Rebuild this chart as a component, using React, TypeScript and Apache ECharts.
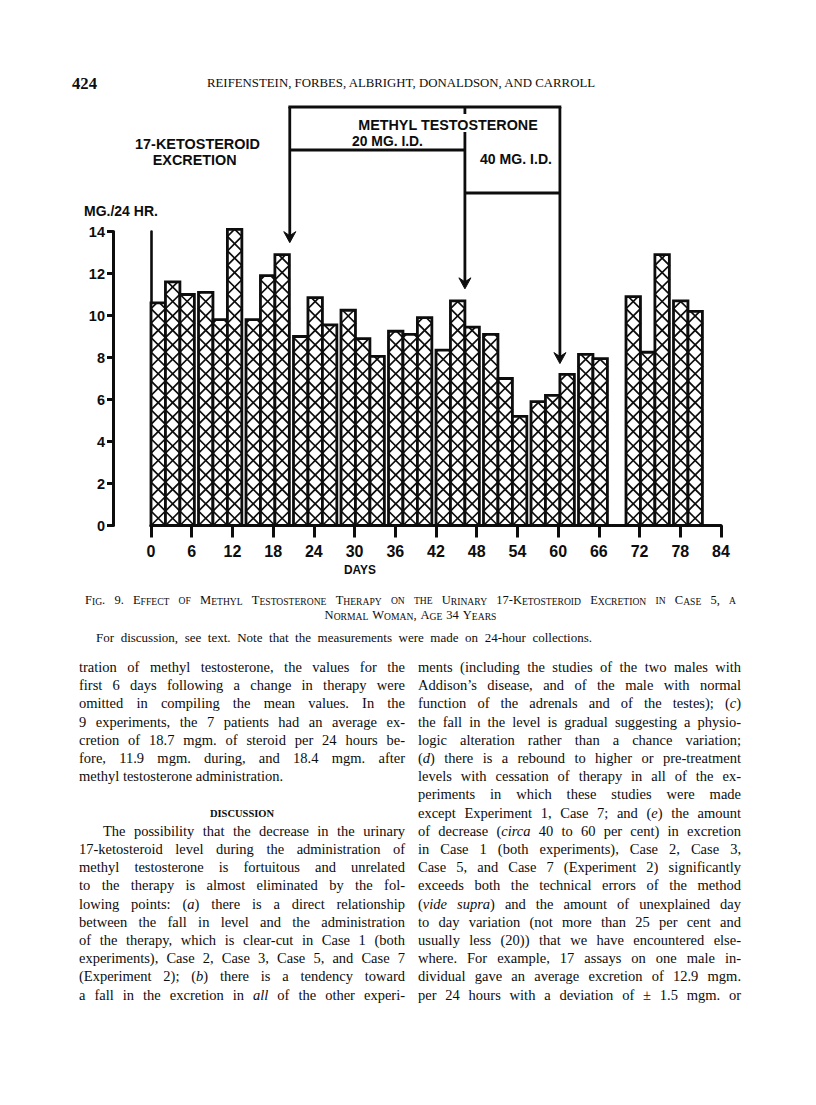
import React, { useEffect, useRef } from "react";
import * as echarts from "echarts";

// ---------------- data ----------------
const weekStarts = [0, 7, 14, 21, 28, 35, 42, 49, 56, 63, 70, 77];
const barsPerWeek = [3, 3, 3, 3, 3, 3, 3, 3, 3, 2, 3, 2];
const excretion = [
  10.6, 11.6, 11.0,
  11.1, 9.8, 14.1,
  9.8, 11.9, 12.9,
  9.0, 10.85, 9.55,
  10.25, 8.9, 8.05,
  9.25, 9.1, 9.9,
  8.35, 10.7, 9.45,
  9.1, 7.0, 5.2,
  5.9, 6.2, 7.2,
  8.15, 7.95,
  10.9, 8.25, 12.9,
  10.7, 10.2,
];
const barDays = 2.13;
const dayMax = 84;
const dayStep = 6;
const mgMax = 14;
const mgStep = 2;
const treatmentDays = [20.45, 46.26, 60.26];
const arrowTipMg = [13.47, 11.27, 7.71];

const runningHead = "REIFENSTEIN, FORBES, ALBRIGHT, DONALDSON, AND CARROLL";
const pageNumber = "424";
const chartTitle = ["17-KETOSTEROID", "EXCRETION"];
const yAxisTitle = "MG./24 HR.";
const xAxisTitle = "DAYS";
const drugTitle = "METHYL TESTOSTERONE";
const doseLabels = ["20 MG. I.D.", "40 MG. I.D."];

const captionLine1 = "Fig. 9. Effect of Methyl Testosterone Therapy on the Urinary 17-Ketosteroid Excretion in Case 5, a";
const captionLine2 = "Normal Woman, Age 34 Years";
const captionLine3 = "For discussion, see text.  Note that the measurements were made on 24-hour collections.";

const leftPara1 = [
  "tration of methyl testosterone, the values for the",
  "first 6 days following a change in therapy were",
  "omitted in compiling the mean values.  In the",
  "9 experiments, the 7 patients had an average ex-",
  "cretion of 18.7 mgm. of steroid per 24 hours be-",
  "fore, 11.9 mgm. during, and 18.4 mgm. after",
  "methyl testosterone administration.",
];
const heading = "DISCUSSION";
const leftPara2 = [
  "The possibility that the decrease in the urinary",
  "17-ketosteroid level during the administration of",
  "methyl testosterone is fortuitous and unrelated",
  "to the therapy is almost eliminated by the fol-",
  "lowing points: (*a*) there is a direct relationship",
  "between the fall in level and the administration",
  "of the therapy, which is clear-cut in Case 1 (both",
  "experiments), Case 2, Case 3, Case 5, and Case 7",
  "(Experiment 2); (*b*) there is a tendency toward",
  "a fall in the excretion in *all* of the other experi-",
];
const rightPara = [
  "ments (including the studies of the two males with",
  "Addison\u2019s disease, and of the male with normal",
  "function of the adrenals and of the testes); (*c*)",
  "the fall in the level is gradual suggesting a physio-",
  "logic alteration rather than a chance variation;",
  "(*d*) there is a rebound to higher or pre-treatment",
  "levels with cessation of therapy in all of the ex-",
  "periments in which these studies were made",
  "except Experiment 1, Case 7; and (*e*) the amount",
  "of decrease (*circa* 40 to 60 per cent) in excretion",
  "in Case 1 (both experiments), Case 2, Case 3,",
  "Case 5, and Case 7 (Experiment 2) significantly",
  "exceeds both the technical errors of the method",
  "(*vide* *supra*) and the amount of unexplained day",
  "to day variation (not more than 25 per cent and",
  "usually less (20)) that we have encountered else-",
  "where.  For example, 17 assays on one male in-",
  "dividual gave an average excretion of 12.9 mgm.",
  "per 24 hours with a deviation of \u00b1 1.5 mgm. or",
];

// ---------------- layout ----------------
const W = 816;
const H = 1105;
const GRID_L = 151;
const GRID_R = 721;
const GRID_T = 231.5;
const GRID_B = 525.5;
const INK = "#0d0d0d";
const SERIF = '"Liberation Serif", "Times New Roman", serif';
const SANS = '"Liberation Sans", Arial, sans-serif';
const NARROW = '"Liberation Sans Narrow", "Liberation Sans", Arial, sans-serif';

const COL_L = [79, 405];
const COL_R = [418, 741];
const BODY_Y0 = 667;
const BODY_PITCH = 18.2;
const BODY_SIZE = 14.5;
const HEAD_Y = 83;

let _ctx: any = null;
function measure(text: string, size: number, family: string, style = "normal", weight = "normal") {
  if (!_ctx) _ctx = document.createElement("canvas").getContext("2d");
  _ctx.font = `${style} ${weight} ${size}px ${family}`;
  return _ctx.measureText(text).width;
}

type Seg = { t: string; size: number; italic?: boolean; weight?: string };

function parseItalic(word: string, size: number): Seg[] {
  return word
    .split("*")
    .map((p, i) => ({ t: p, size, italic: i % 2 === 1 }))
    .filter((s) => s.t.length > 0);
}

function parseSmallCaps(word: string, big: number, small: number, weight = "normal"): Seg[] {
  const segs: Seg[] = [];
  for (const ch of word) {
    const low = ch !== ch.toUpperCase();
    const size = low ? small : big;
    const t = low ? ch.toUpperCase() : ch;
    const last = segs[segs.length - 1];
    if (last && last.size === size) last.t += t;
    else segs.push({ t, size, weight });
  }
  return segs;
}

function segsWidth(segs: Seg[], family: string) {
  return segs.reduce((a, s) => a + measure(s.t, s.size, family, s.italic ? "italic" : "normal", s.weight || "normal"), 0);
}

function wordElement(segs: Seg[], x: number, y: number, family: string) {
  if (segs.length === 1) {
    const s = segs[0];
    return {
      type: "text",
      x,
      y,
      silent: true,
      style: {
        text: s.t,
        fontSize: s.size,
        fontFamily: family,
        fontStyle: s.italic ? "italic" : "normal",
        fontWeight: s.weight || "normal",
        fill: INK,
        align: "left",
        verticalAlign: "middle",
      },
    };
  }
  const rich: any = {};
  let text = "";
  segs.forEach((s, i) => {
    const k = "k" + i;
    rich[k] = {
      fontSize: s.size,
      fontFamily: family,
      fontStyle: s.italic ? "italic" : "normal",
      fontWeight: s.weight || "normal",
      fill: INK,
      verticalAlign: "bottom",
    };
    text += `{${k}|${s.t}}`;
  });
  return {
    type: "text",
    x,
    y,
    silent: true,
    style: { text, rich, fill: INK, align: "left", verticalAlign: "middle", fontFamily: family, fontSize: segs[0].size },
  };
}

function layoutLine(
  words: Seg[][],
  x0: number,
  x1: number,
  y: number,
  mode: "justify" | "left" | "center",
  family: string,
  space: number
) {
  const widths = words.map((w) => segsWidth(w, family));
  const total = widths.reduce((a, b) => a + b, 0);
  let gap = space;
  if (mode === "justify" && words.length > 1) gap = Math.max(space * 0.45, (x1 - x0 - total) / (words.length - 1));
  let x = x0;
  if (mode === "center") x = (x0 + x1) / 2 - (total + gap * (words.length - 1)) / 2;
  const els: any[] = [];
  words.forEach((w, i) => {
    els.push(wordElement(w, x, y, family));
    x += widths[i] + gap;
  });
  return els;
}

function bodyLine(line: string, x0: number, x1: number, y: number, justify: boolean, size: number) {
  const words = line.split(/\s+/).filter((w) => w).map((w) => parseItalic(w, size));
  return layoutLine(words, x0, x1, y, justify ? "justify" : "left", SERIF, measure(" ", size, SERIF));
}

function fitSize(text: string, family: string, weight: string, width: number) {
  return (20 * width) / measure(text, 20, family, "normal", weight);
}

function label(text: string, x: number, y: number, width: number, family: string, weight: string, align = "center") {
  return {
    type: "text",
    x,
    y,
    silent: true,
    style: {
      text,
      fontSize: fitSize(text, family, weight, width),
      fontFamily: family,
      fontWeight: weight,
      fill: INK,
      align,
      verticalAlign: "middle",
    },
  };
}

// ---------------- bars ----------------
function buildBarData() {
  const out: number[][] = [];
  let k = 0;
  weekStarts.forEach((start, w) => {
    for (let j = 0; j < barsPerWeek[w]; j++) {
      const a = start + j * barDays;
      out.push([a, a + barDays, excretion[k++]]);
    }
  });
  return out;
}

function zigzag(xl: number, xr: number, yb: number, yt: number, startLeft: boolean) {
  const w = xr - xl;
  const pts: number[][] = [];
  let x = startLeft ? xl : xr;
  let y = yb;
  pts.push([x, y]);
  for (let guard = 0; guard < 200; guard++) {
    const nx = x === xl ? xr : xl;
    const ny = y - w;
    if (ny <= yt) {
      const f = (y - yt) / w;
      pts.push([x + (nx - x) * f, yt]);
      break;
    }
    pts.push([nx, ny]);
    x = nx;
    y = ny;
  }
  return pts;
}

function renderBar(params: any, api: any) {
  const a = api.value(0);
  const b = api.value(1);
  const v = api.value(2);
  const p0 = api.coord([a, 0]);
  const p1 = api.coord([b, v]);
  const xl = p0[0];
  const xr = p1[0];
  const yb = p0[1];
  const yt = p1[1];
  const shape = { x: xl, y: yt, width: xr - xl, height: yb - yt };
  return {
    type: "group",
    children: [
      { type: "rect", shape, style: { fill: "#fff", stroke: null } },
      { type: "polyline", shape: { points: zigzag(xl, xr, yb, yt, true) }, style: { stroke: INK, lineWidth: 1.7, fill: null } },
      { type: "polyline", shape: { points: zigzag(xl, xr, yb, yt, false) }, style: { stroke: INK, lineWidth: 1.7, fill: null } },
      { type: "rect", shape, style: { fill: "none", stroke: INK, lineWidth: 2.8 } },
    ],
  };
}

function buildOption() {
  return {
    animation: false,
    backgroundColor: "#ffffff",
    grid: { left: GRID_L, right: W - GRID_R, top: GRID_T, bottom: H - GRID_B, containLabel: false },
    xAxis: {
      type: "value",
      min: 0,
      max: dayMax,
      interval: dayStep,
      axisLine: { show: true, onZero: false, lineStyle: { color: INK, width: 3.2 } },
      axisTick: { show: true, length: 12, lineStyle: { color: INK, width: 3 } },
      axisLabel: { color: INK, fontSize: 16, fontWeight: "bold", fontFamily: SANS, margin: 18 },
      splitLine: { show: false },
    },
    yAxis: [
      {
        type: "value",
        min: 0,
        max: mgMax,
        interval: mgStep,
        position: "left",
        offset: GRID_L - 113,
        axisLine: { show: true, onZero: false, lineStyle: { color: INK, width: 3 } },
        axisTick: { show: true, length: 6, lineStyle: { color: INK, width: 3 } },
        axisLabel: { color: INK, fontSize: 14.5, fontWeight: "bold", fontFamily: SANS, margin: 8 },
        splitLine: { show: false },
      },
      {
        type: "value",
        min: 0,
        max: mgMax,
        interval: mgStep,
        position: "left",
        offset: 0,
        axisLine: { show: true, onZero: false, lineStyle: { color: INK, width: 2.6 } },
        axisTick: { show: false },
        axisLabel: { show: false },
        splitLine: { show: false },
      },
    ],
    series: [
      {
        type: "custom",
        xAxisIndex: 0,
        yAxisIndex: 0,
        data: buildBarData(),
        encode: { x: [0, 1], y: 2 },
        renderItem: renderBar,
      },
    ],
  };
}

function buildGraphic(chart: any) {
  const P = (d: number, v: number) => chart.convertToPixel({ gridIndex: 0 }, [d, v]);
  const els: any[] = [];
  const line = (x1: number, y1: number, x2: number, y2: number, w = 2.8) =>
    els.push({ type: "line", silent: true, shape: { x1, y1, x2, y2 }, style: { stroke: INK, lineWidth: w } });
  const arrowHead = (x: number, tip: number) =>
    els.push({
      type: "polygon",
      silent: true,
      shape: { points: [[x, tip], [x - 6, tip - 11], [x, tip - 7], [x + 6, tip - 11]] },
      style: { fill: INK, stroke: INK, lineWidth: 1 },
    });

  const xs = treatmentDays.map((d) => P(d, 0)[0]);
  const tips = treatmentDays.map((d, i) => P(d, arrowTipMg[i])[1]);
  const yTop = 107;
  const yBox1 = 150;
  const yBox2 = 193;
  line(xs[0] - 1.4, yTop, xs[2] + 1.4, yTop);
  line(xs[0], yTop, xs[0], tips[0] - 5);
  line(xs[0], yBox1, xs[1], yBox1);
  line(xs[1], yTop, xs[1], yTop + 7);
  line(xs[1], 132, xs[1], tips[1] - 5);
  line(xs[1], yBox2, xs[2], yBox2);
  line(xs[2], yTop, xs[2], tips[2] - 5);
  xs.forEach((x, i) => arrowHead(x, tips[i]));

  els.push(label(drugTitle, 448, 125, 180, NARROW, "bold"));
  els.push(label(doseLabels[0], 387.5, 141, 71, NARROW, "bold"));
  els.push(label(doseLabels[1], 516, 159, 72, NARROW, "bold"));
  els.push(label(chartTitle[0], 197.5, 144, 125, NARROW, "bold"));
  els.push(label(chartTitle[1], 194.7, 159.5, 84, NARROW, "bold"));
  els.push(label(yAxisTitle, 84, 211, 74, NARROW, "bold", "left"));
  els.push(label(xAxisTitle, 360, 570, 32, NARROW, "bold"));

  // running head
  els.push(label(pageNumber, 72, HEAD_Y, 25, SERIF, "bold", "left"));
  els.push(label(runningHead, 207, HEAD_Y, 390, SERIF, "normal", "left"));

  // caption
  const capWords1 = captionLine1.split(/\s+/).map((w) => parseSmallCaps(w, 12.5, 9.6));
  els.push(...layoutLine(capWords1, 85, 736, 600, "justify", SERIF, 4));
  const capWords2 = captionLine2.split(/\s+/).map((w) => parseSmallCaps(w, 12.5, 9.6));
  els.push(...layoutLine(capWords2, 85, 736, 614.5, "center", SERIF, 4));
  els.push(...bodyLine(captionLine3, 96, 592, 637, true, 13));

  // body text
  leftPara1.forEach((l, i) =>
    els.push(...bodyLine(l, COL_L[0], COL_L[1], BODY_Y0 + i * BODY_PITCH, i < leftPara1.length - 1, BODY_SIZE))
  );
  els.push(...layoutLine([parseSmallCaps(heading, 10.5, 10.5, "bold")], COL_L[0], COL_L[1], 813, "center", SERIF, 4));
  leftPara2.forEach((l, i) =>
    els.push(...bodyLine(l, COL_L[0] + (i === 0 ? 24 : 0), COL_L[1], BODY_Y0 + (i + 9) * BODY_PITCH, true, BODY_SIZE))
  );
  rightPara.forEach((l, i) => els.push(...bodyLine(l, COL_R[0], COL_R[1], BODY_Y0 + i * BODY_PITCH, true, BODY_SIZE)));
  return els;
}

export default function App() {
  const ref = useRef<HTMLDivElement>(null);
  useEffect(() => {
    if (!ref.current) return;
    const chart = echarts.init(ref.current, null, { renderer: "svg", width: W, height: H });
    chart.setOption(buildOption() as any);
    chart.setOption({ graphic: buildGraphic(chart) } as any);
    return () => chart.dispose();
  }, []);
  return (
    <div
      ref={ref}
      style={{ position: "absolute", left: 0, top: 0, width: W, height: H, background: "#fff" }}
    />
  );
}
